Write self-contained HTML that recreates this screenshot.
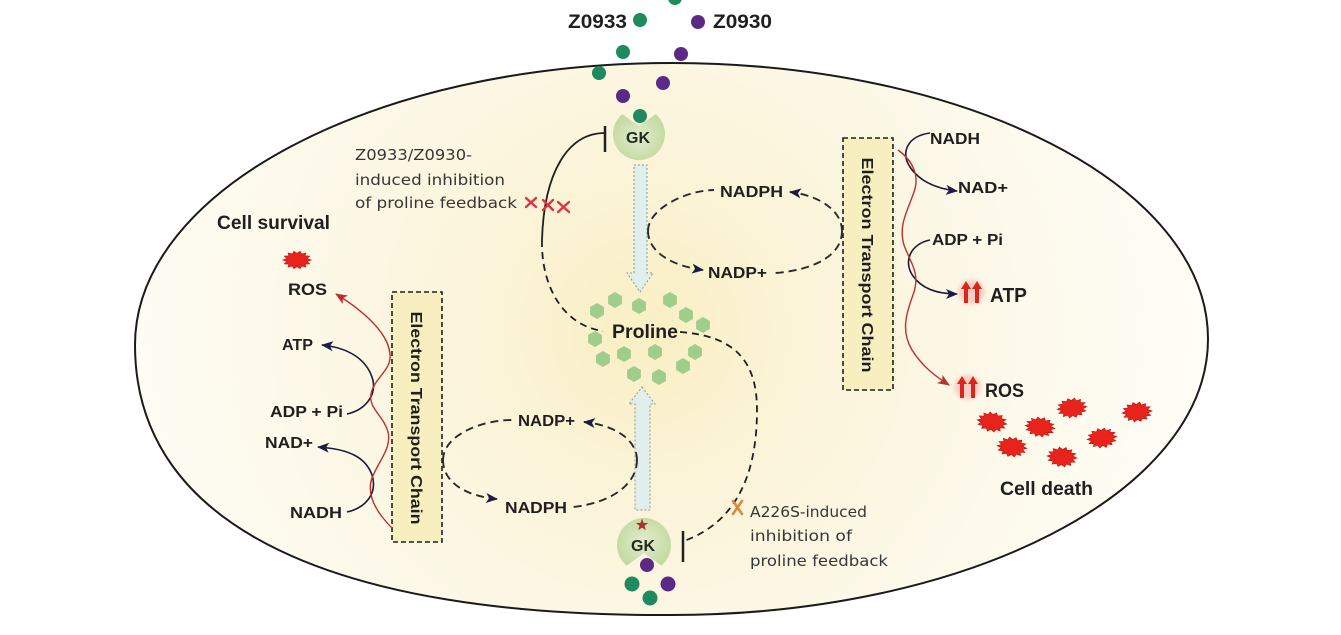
<!DOCTYPE html>
<html><head><meta charset="utf-8"><style>html,body{margin:0;padding:0;background:#fff;}svg{display:block}</style></head>
<body>
<svg width="1341" height="635" viewBox="0 0 1341 635" xmlns="http://www.w3.org/2000/svg" xmlns:xlink="http://www.w3.org/1999/xlink">
<defs>
  <radialGradient id="bg" gradientUnits="userSpaceOnUse" cx="645" cy="330" r="560">
    <stop offset="0" stop-color="#f9efc3"/>
    <stop offset="0.3" stop-color="#fbf4d9"/>
    <stop offset="0.65" stop-color="#fdf9ea"/>
    <stop offset="1" stop-color="#fefdf7"/>
  </radialGradient>
  <radialGradient id="gk" cx="0.5" cy="0.5" r="0.5">
    <stop offset="0" stop-color="#e4ecd0"/>
    <stop offset="1" stop-color="#c6dba4"/>
  </radialGradient>
  <marker id="ah" viewBox="0 0 12 10" refX="11" refY="5" markerWidth="12" markerHeight="10" markerUnits="userSpaceOnUse" orient="auto">
    <path d="M0,0 L12,5 L0,10 L3,5 Z" fill="#1c1c45"/>
  </marker>
  <marker id="rh" viewBox="0 0 12 10" refX="11" refY="5" markerWidth="12" markerHeight="10" markerUnits="userSpaceOnUse" orient="auto">
    <path d="M0,0 L12,5 L0,10 L3,5 Z" fill="#c0302a"/>
  </marker>
  <polygon id="hex" points="0,-8 6.9,-4 6.9,4 0,8 -6.9,4 -6.9,-4" fill="#9fcd8b"/>
  <polygon id="burst" points="15,0 10.7,1.7 13.5,4.3 8.6,4.7 9.4,7.8 4.8,6.8 3.3,9.7 0,7.5 -3.3,9.7 -4.8,6.8 -9.4,7.8 -8.6,4.7 -13.5,4.3 -10.7,1.7 -15,0 -10.7,-1.7 -13.5,-4.3 -8.6,-4.7 -9.4,-7.8 -4.8,-6.8 -3.3,-9.7 0,-7.5 3.3,-9.7 4.8,-6.8 9.4,-7.8 8.6,-4.7 13.5,-4.3 10.7,-1.7" fill="#e8231c" stroke="#c01510" stroke-width="0.6"/>
  <filter id="blur" x="-50%" y="-50%" width="200%" height="200%"><feGaussianBlur stdDeviation="2.5"/></filter>
  <g id="dup">
    <ellipse cx="11.5" cy="11" rx="13" ry="12" fill="#f4a8a8" opacity="0.55" filter="url(#blur)"/>
    <polygon points="6,0 11,8 8,8 8,22 4,22 4,8 1,8" fill="#d8261a"/>
    <polygon points="17,0 22,8 19,8 19,22 15,22 15,8 12,8" fill="#d8261a"/>
  </g>
</defs>

<rect width="1341" height="635" fill="#ffffff"/>

<!-- cell -->
<path d="M 135 345 C 135 190 375 63 671.5 63 C 968 63 1208 186 1208 339 C 1208 492 968 615 671.5 615 C 340 617 135 530 135 345 Z" fill="url(#bg)" stroke="#1a1a1a" stroke-width="2"/>

<!-- top molecules -->
<g font-family="Liberation Sans, Arial, sans-serif" font-weight="bold" fill="#1f1f1f">
  <text x="568" y="28" font-size="19" textLength="59" lengthAdjust="spacingAndGlyphs">Z0933</text>
  <text x="713" y="28" font-size="19" textLength="59" lengthAdjust="spacingAndGlyphs">Z0930</text>
</g>
<circle cx="675" cy="-2" r="7" fill="#1f8a5e"/>
<circle cx="640" cy="20" r="7" fill="#1f8a5e"/>
<circle cx="698" cy="22" r="7" fill="#5b2a86"/>
<circle cx="623" cy="52" r="7" fill="#1f8a5e"/>
<circle cx="681" cy="54" r="7" fill="#5b2a86"/>
<circle cx="599" cy="73" r="7" fill="#1f8a5e"/>
<circle cx="663" cy="83" r="7" fill="#5b2a86"/>
<circle cx="623" cy="96" r="7" fill="#5b2a86"/>

<!-- top GK -->
<path d="M 639 126 L 655.7 114.1 A 26 26 0 1 1 622.3 114.1 Z" fill="url(#gk)"/>
<circle cx="640" cy="116" r="7" fill="#1f8a5e"/>
<text x="638" y="143" font-family="Liberation Sans, Arial, sans-serif" font-weight="bold" font-size="16" fill="#1f2a1a" text-anchor="middle">GK</text>

<!-- bottom GK -->
<path d="M 644 553 L 626.6 565.7 A 27 27 0 1 1 661.4 565.7 Z" fill="url(#gk)"/>
<circle cx="647" cy="565" r="7" fill="#5b2a86"/>
<polygon points="642,518.5 643.5,522.9 648.2,523 644.5,525.8 645.8,530.3 642,527.6 638.2,530.3 639.5,525.8 635.8,523 640.5,522.9" fill="#b03030"/>
<text x="643" y="551" font-family="Liberation Sans, Arial, sans-serif" font-weight="bold" font-size="16" fill="#1f2a1a" text-anchor="middle">GK</text>
<circle cx="632" cy="584" r="7.5" fill="#1f8a5e"/>
<circle cx="668" cy="584" r="7.5" fill="#5b2a86"/>
<circle cx="650" cy="598" r="7.5" fill="#1f8a5e"/>

<!-- hollow arrows -->
<polygon points="634,165 647,165 647,273 653,273 640,292 627,273 634,273" fill="#e0efeb" stroke="#8a9a94" stroke-width="1" stroke-dasharray="2 2"/>
<polygon points="642,387 655,404 650,404 650,510 635,510 635,404 629,404" fill="#e0efeb" stroke="#8a9a94" stroke-width="1" stroke-dasharray="2 2"/>

<!-- proline hexagons -->
<use xlink:href="#hex" x="615" y="300"/>
<use xlink:href="#hex" x="639" y="306"/>
<use xlink:href="#hex" x="670" y="300"/>
<use xlink:href="#hex" x="597" y="311"/>
<use xlink:href="#hex" x="686" y="315"/>
<use xlink:href="#hex" x="703" y="325"/>
<use xlink:href="#hex" x="595" y="339"/>
<use xlink:href="#hex" x="603" y="359"/>
<use xlink:href="#hex" x="624" y="354"/>
<use xlink:href="#hex" x="655" y="352"/>
<use xlink:href="#hex" x="695" y="352"/>
<use xlink:href="#hex" x="683" y="366"/>
<use xlink:href="#hex" x="634" y="374"/>
<use xlink:href="#hex" x="659" y="377"/>

<!-- inhibition lines -->
<g fill="none" stroke="#1f1f1f" stroke-width="1.8">
  <path d="M 605 133 C 568 133, 544 172, 542 240"/>
  <path d="M 542 240 C 541 290, 566 326, 603 331" stroke-dasharray="7 5"/>
  <line x1="605" y1="126" x2="605" y2="152" stroke-width="2.5"/>
  <path d="M 680 332 C 732 336, 757 358, 757 410 C 757 465, 742 520, 684 541" stroke-dasharray="7 5"/>
  <line x1="683" y1="531" x2="683" y2="562" stroke-width="2.5"/>
</g>

<!-- red XXX -->
<g stroke="#e2313f" stroke-width="2.3" stroke-linecap="round">
  <line x1="526" y1="198" x2="536" y2="207"/><line x1="536" y1="198" x2="526" y2="207"/>
  <line x1="543" y1="200" x2="553" y2="210"/><line x1="553" y1="200" x2="543" y2="210"/>
  <line x1="558" y1="202" x2="569" y2="212"/><line x1="569" y1="202" x2="558" y2="212"/>
</g>
<!-- orange X -->
<g stroke="#d88a3f" stroke-width="2.6" stroke-linecap="round">
  <line x1="733" y1="501" x2="742" y2="514"/><line x1="742" y1="501" x2="733" y2="514"/>
</g>

<!-- annotations -->
<g font-family="DejaVu Sans, Liberation Sans, sans-serif" font-size="15" fill="#363636">
  <text x="355" y="160" textLength="117" lengthAdjust="spacingAndGlyphs">Z0933/Z0930-</text>
  <text x="355" y="185" textLength="150" lengthAdjust="spacingAndGlyphs">induced inhibition</text>
  <text x="355" y="208" textLength="162" lengthAdjust="spacingAndGlyphs">of proline feedback</text>
  <text x="750" y="517" textLength="117" lengthAdjust="spacingAndGlyphs">A226S-induced</text>
  <text x="750" y="541" textLength="102" lengthAdjust="spacingAndGlyphs">inhibition of</text>
  <text x="750" y="566" textLength="138" lengthAdjust="spacingAndGlyphs">proline feedback</text>
</g>

<!-- ETC boxes -->
<rect x="392" y="292" width="50" height="250" fill="#f8efc0" stroke="#1f1f1f" stroke-width="1.6" stroke-dasharray="5 3"/>
<rect x="843" y="138" width="50" height="252" fill="#f8efc0" stroke="#1f1f1f" stroke-width="1.6" stroke-dasharray="5 3"/>
<g font-family="Liberation Sans, Arial, sans-serif" font-weight="bold" font-size="16" fill="#1f1f1f">
  <text transform="translate(417,418) rotate(90)" x="0" y="6" text-anchor="middle" textLength="213" lengthAdjust="spacingAndGlyphs">Electron Transport Chain</text>
  <text transform="translate(868,265) rotate(90)" x="0" y="6" text-anchor="middle" textLength="215" lengthAdjust="spacingAndGlyphs">Electron Transport Chain</text>
</g>

<!-- NADP loops -->
<g fill="none" stroke="#2a2a2a" stroke-width="1.9" stroke-dasharray="8 5">
  <path d="M 648 231 C 648 208, 688 190, 714 190"/>
  <path d="M 842 231 C 842 212, 822 196, 790 192" marker-end="url(#ah)"/>
  <path d="M 842 231 C 842 255, 815 270, 775 273"/>
  <path d="M 648 231 C 648 252, 672 266, 703 270" marker-end="url(#ah)"/>

  <path d="M 443 460 C 443 436, 480 420, 512 420"/>
  <path d="M 637 460 C 637 440, 615 425, 584 422" marker-end="url(#ah)"/>
  <path d="M 637 460 C 637 485, 610 503, 573 507"/>
  <path d="M 443 460 C 443 482, 465 496, 497 499" marker-end="url(#ah)"/>
</g>

<!-- ETC reaction arrows -->
<g fill="none" stroke="#1c1c3a" stroke-width="1.6">
  <path d="M 347 414 C 365 410, 378 395, 372 377 C 366 360, 350 348, 322 345" marker-end="url(#ah)"/>
  <path d="M 347 512 C 365 508, 378 494, 372 475 C 366 458, 350 449, 318 447" marker-end="url(#ah)"/>
  <path d="M 930 133 C 908 136, 900 152, 910 167 C 920 182, 938 189, 957 191" marker-end="url(#ah)"/>
  <path d="M 930 240 C 910 244, 903 262, 913 276 C 922 289, 938 294, 957 294" marker-end="url(#ah)"/>
</g>
<g fill="none" stroke="#c0302a" stroke-width="1.4">
  <path d="M 392 528 C 376 512, 366 495, 372 478 C 378 462, 392 448, 388 432 C 384 416, 368 408, 371 394 C 374 378, 392 370, 390 354 C 388 332, 362 310, 336 294" marker-end="url(#rh)"/>
  <path d="M 898 150 C 912 160, 920 175, 914 192 C 908 210, 898 225, 904 245 C 910 262, 920 272, 914 292 C 907 312, 900 330, 912 350 C 922 366, 935 376, 949 385" marker-end="url(#rh)"/>
</g>

<!-- ROS bursts -->
<use xlink:href="#burst" transform="translate(297,260) scale(0.95,0.9)"/>
<use xlink:href="#burst" transform="translate(992,422) rotate(8)"/>
<use xlink:href="#burst" transform="translate(1072,408) rotate(-5)"/>
<use xlink:href="#burst" transform="translate(1040,427) rotate(6)"/>
<use xlink:href="#burst" transform="translate(1137,412) rotate(-4)"/>
<use xlink:href="#burst" transform="translate(1012,447) rotate(5)"/>
<use xlink:href="#burst" transform="translate(1102,438) rotate(-6)"/>
<use xlink:href="#burst" transform="translate(1062,457) rotate(4)"/>

<!-- double up arrows -->
<use xlink:href="#dup" transform="translate(960,281)"/>
<use xlink:href="#dup" transform="translate(956,376)"/>

<!-- bold labels -->
<g font-family="Liberation Sans, Arial, sans-serif" font-weight="bold" fill="#1f1f1f">
  <text x="217" y="229" font-size="19" textLength="113" lengthAdjust="spacingAndGlyphs">Cell survival</text>
  <text x="288" y="295" font-size="17" textLength="39" lengthAdjust="spacingAndGlyphs">ROS</text>
  <text x="282" y="350" font-size="16" textLength="31" lengthAdjust="spacingAndGlyphs">ATP</text>
  <text x="270" y="417" font-size="16" textLength="73" lengthAdjust="spacingAndGlyphs">ADP + Pi</text>
  <text x="265" y="448" font-size="16" textLength="48" lengthAdjust="spacingAndGlyphs">NAD+</text>
  <text x="290" y="518" font-size="16" textLength="52" lengthAdjust="spacingAndGlyphs">NADH</text>

  <text x="930" y="144" font-size="16" textLength="50" lengthAdjust="spacingAndGlyphs">NADH</text>
  <text x="958" y="193" font-size="16" textLength="50" lengthAdjust="spacingAndGlyphs">NAD+</text>
  <text x="932" y="245" font-size="16" textLength="71" lengthAdjust="spacingAndGlyphs">ADP + Pi</text>
  <text x="990" y="302" font-size="20" textLength="37" lengthAdjust="spacingAndGlyphs">ATP</text>
  <text x="985" y="397" font-size="19" textLength="39" lengthAdjust="spacingAndGlyphs">ROS</text>
  <text x="1000" y="495" font-size="19" textLength="93" lengthAdjust="spacingAndGlyphs">Cell death</text>

  <text x="720" y="197" font-size="16" textLength="63" lengthAdjust="spacingAndGlyphs">NADPH</text>
  <text x="708" y="278" font-size="16" textLength="59" lengthAdjust="spacingAndGlyphs">NADP+</text>
  <text x="518" y="426" font-size="16" textLength="57" lengthAdjust="spacingAndGlyphs">NADP+</text>
  <text x="505" y="513" font-size="16" textLength="62" lengthAdjust="spacingAndGlyphs">NADPH</text>
  <text x="612" y="338" font-size="19" textLength="66" lengthAdjust="spacingAndGlyphs">Proline</text>
</g>
</svg>
</body></html>
